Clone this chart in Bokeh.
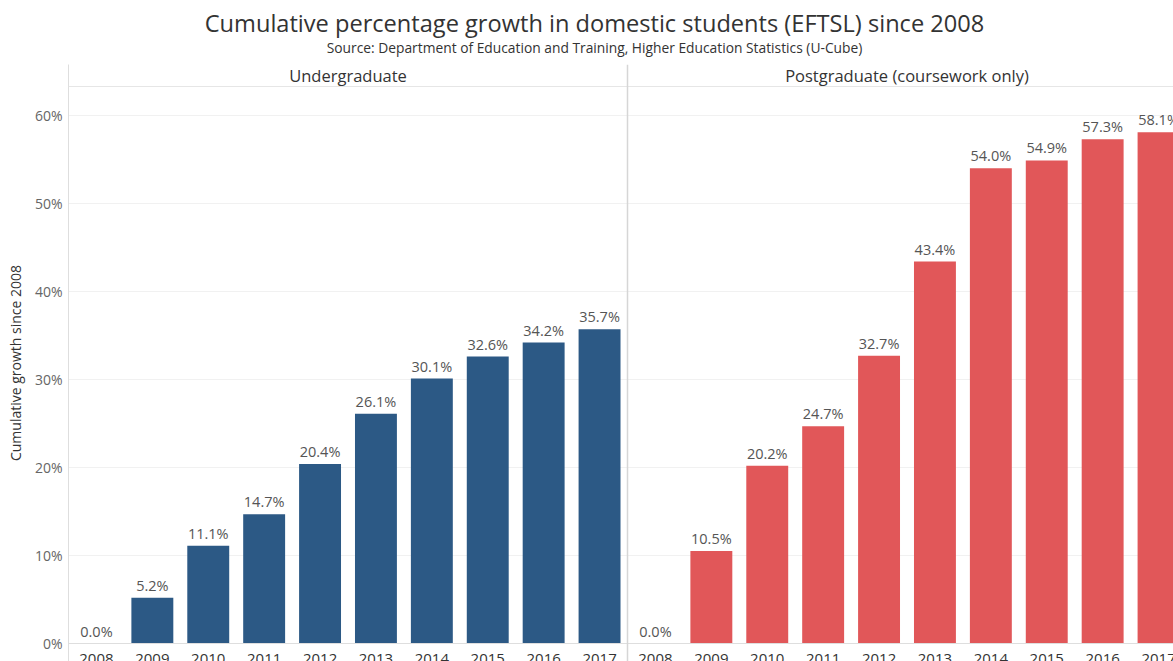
from bokeh.plotting import figure
from bokeh.models import Range1d, FixedTicker, PrintfTickFormatter, Span
from bokeh.layouts import column
from bokeh.core.properties import value
from bokeh.embed import file_html
from bokeh.resources import INLINE

# ---- data -------------------------------------------------------------
years = ["2008", "2009", "2010", "2011", "2012", "2013", "2014", "2015", "2016", "2017"]
undergrad = [0.0, 5.2, 11.1, 14.7, 20.4, 26.1, 30.1, 32.6, 34.2, 35.7]
postgrad = [0.0, 10.5, 20.2, 24.7, 32.7, 43.4, 54.0, 54.9, 57.3, 58.1]
y_ticks = [0, 10, 20, 30, 40, 50, 60]
panel_titles = ["Undergraduate", "Postgraduate (coursework only)"]
chart_title = "Cumulative percentage growth in domestic students (EFTSL) since 2008"
chart_source = "Source: Department of Education and Training, Higher Education Statistics (U-Cube)"
y_label = "Cumulative growth since 2008"

# ---- layout / style ---------------------------------------------------
FONT = "Open Sans"
W = 1173
H_HEAD = 64          # title strip
H_MAIN = 597         # panes
LEFT = 68            # room for the y axis
PANEL_PX = 559       # width of one pane
STEP = PANEL_PX / len(years)
PX_PER_PCT = 8.8
ZERO_PX = 579        # zero line, measured from the top of the panes
HEADER_PX = 22       # pane header band
BLUE = "#2c5985"
RED = "#e15759"
RULE = "#dedede"

# ---- title strip ------------------------------------------------------
# the strip shares the panes' left border, so its x range starts at LEFT
head = figure(width=W, height=H_HEAD, x_range=Range1d(LEFT, W), y_range=Range1d(H_HEAD, 0),
              x_axis_location=None, y_axis_location=None, toolbar_location=None,
              output_backend="svg", min_border=0, min_border_left=LEFT)
head.outline_line_color = None
head.grid.visible = False
head.text(x=[594], y=[22], text=[chart_title], text_font=value(FONT), text_font_size="23.6px",
          text_color="#333333", text_align="center", text_baseline="middle")
head.text(x=[594], y=[47], text=[chart_source], text_font=value(FONT), text_font_size="13.8px",
          text_color="#333333", text_align="center", text_baseline="middle")

# ---- panes ------------------------------------------------------------
n = len(years)
x_ug = [i for i in range(n)]
x_pg = [n + i for i in range(n)]
x_end = -0.5 + (W - LEFT) / STEP
y_start = -(H_MAIN - ZERO_PX) / PX_PER_PCT
y_end = ZERO_PX / PX_PER_PCT

p = figure(width=W, height=H_MAIN, x_range=Range1d(-0.5, x_end), y_range=Range1d(y_start, y_end),
           x_axis_location=None, toolbar_location=None, output_backend="svg",
           min_border_left=LEFT, min_border_right=0, min_border_top=0, min_border_bottom=0)
p.outline_line_color = None
p.xgrid.visible = False
p.ygrid.ticker = FixedTicker(ticks=y_ticks[1:])
p.ygrid.grid_line_color = "#f1f1f1"

ax = p.yaxis[0]
ax.ticker = FixedTicker(ticks=y_ticks)
ax.formatter = PrintfTickFormatter(format="%d%%")
ax.major_tick_in = 0
ax.major_tick_out = 0
ax.minor_tick_in = 0
ax.minor_tick_out = 0
ax.axis_line_color = RULE
ax.major_label_standoff = 6
ax.major_label_text_font = FONT
ax.major_label_text_font_size = "14px"
ax.major_label_text_color = "#666666"
ax.axis_label = y_label
ax.axis_label_standoff = 7
ax.axis_label_text_font = FONT
ax.axis_label_text_font_size = "14px"
ax.axis_label_text_font_style = "normal"
ax.axis_label_text_color = "#333333"

# bars
p.vbar(x=x_ug, top=undergrad, bottom=0, width=0.75, fill_color=BLUE, line_color=None)
p.vbar(x=x_pg, top=postgrad, bottom=0, width=0.75, fill_color=RED, line_color=None)

# value labels
p.text(x=x_ug + x_pg, y=undergrad + postgrad,
       text=[f"{v:.1f}%" for v in undergrad + postgrad],
       text_font=value(FONT), text_font_size="14.5px", text_color="#555555",
       text_align="center", text_baseline="bottom", y_offset=-3)

# year labels under each pane
p.text(x=x_ug + x_pg, y=[0] * (2 * n), text=years + years,
       text_font=value(FONT), text_font_size="15px", text_color="#333333",
       text_align="center", text_baseline="middle", y_offset=15)

# pane headers and rules
header_line = (ZERO_PX - HEADER_PX) / PX_PER_PCT
p.add_layout(Span(location=header_line, dimension="width", line_color="#e6e6e6", line_width=1))
p.add_layout(Span(location=0, dimension="width", line_color=RULE, line_width=1))
p.add_layout(Span(location=n - 0.5, dimension="height", line_color="#d6d6d6", line_width=1.5))
p.text(x=[(n - 1) / 2, n + (n - 1) / 2], y=[y_end, y_end], text=panel_titles,
       text_font=value(FONT), text_font_size="16.5px", text_color="#333333",
       text_align="center", text_baseline="middle", y_offset=HEADER_PX / 2)

layout = column(head, p, spacing=0)
open("out.html", "w").write(file_html(layout, INLINE))
